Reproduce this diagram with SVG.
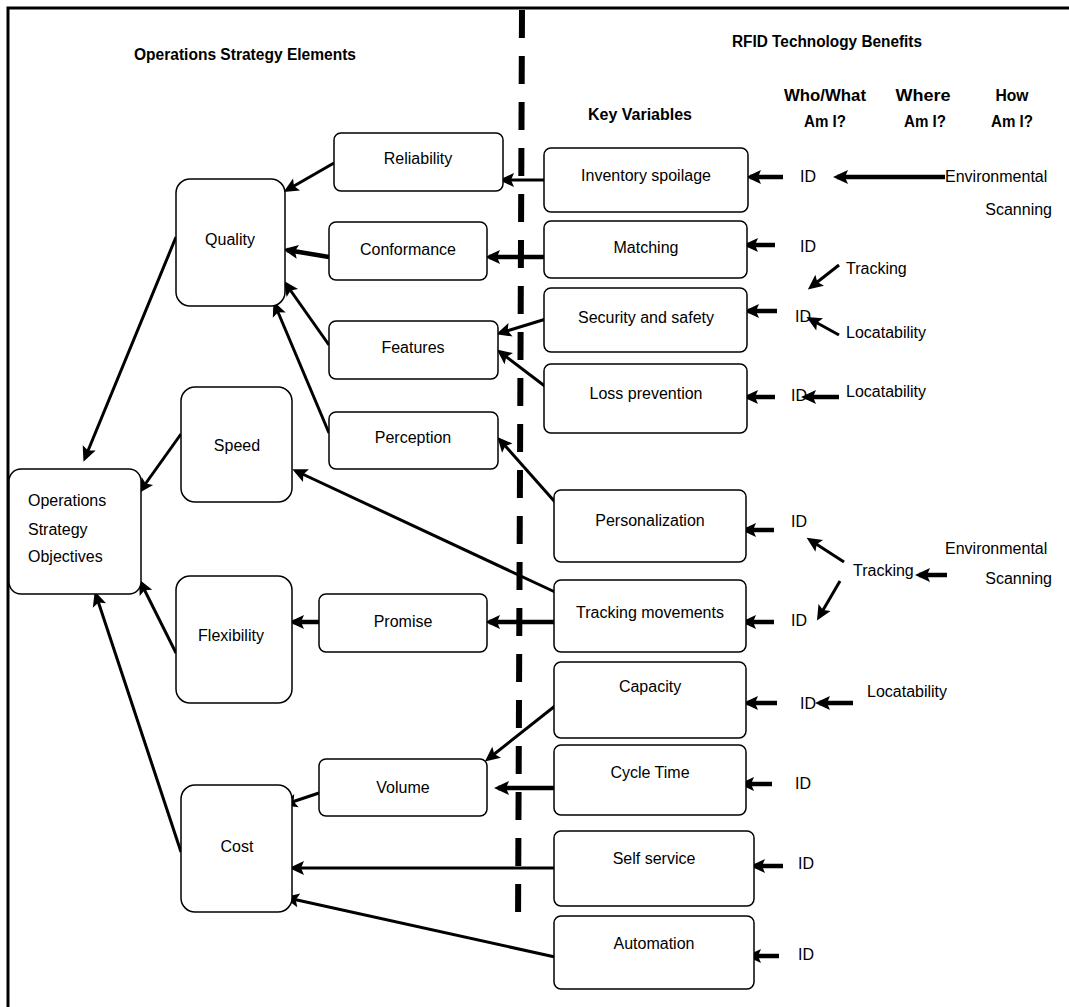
<svg xmlns="http://www.w3.org/2000/svg" width="1069" height="1007" viewBox="0 0 1069 1007">
<defs>
<style>
.box{fill:#fff;stroke:#000;stroke-width:1.5}
.t{font-family:"Liberation Sans",Arial,sans-serif;font-size:16px;fill:#000}
.c{text-anchor:middle}
.h{font-family:"Liberation Sans",Arial,sans-serif;font-size:16px;font-weight:bold;fill:#000}
.ln{stroke:#000;stroke-width:3;fill:none;marker-end:url(#ah)}
.tk{stroke:#000;stroke-width:4.5;fill:none;marker-end:url(#ah)}
</style>
<marker id="ah" markerUnits="userSpaceOnUse" markerWidth="16" markerHeight="14" refX="11" refY="7" orient="auto" overflow="visible">
<path d="M0,0 L15,7 L0,14 L3,7 z" fill="#000"/>
</marker>
</defs>
<rect width="1069" height="1007" fill="#fff"/>
<path d="M8,1007 V8 H1069" fill="none" stroke="#000" stroke-width="3"/>
<line x1="522" y1="10" x2="518" y2="928" stroke="#000" stroke-width="6" stroke-dasharray="28,18"/>

<g id="headers">
<text class="h c" x="245" y="60" textLength="222" lengthAdjust="spacingAndGlyphs">Operations Strategy Elements</text>
<text class="h c" x="827" y="47" textLength="190" lengthAdjust="spacingAndGlyphs">RFID Technology Benefits</text>
<text class="h c" x="640" y="120" textLength="104" lengthAdjust="spacingAndGlyphs">Key Variables</text>
<text class="h c" x="825" y="101" textLength="82" lengthAdjust="spacingAndGlyphs">Who/What</text>
<text class="h c" x="825" y="127" textLength="42" lengthAdjust="spacingAndGlyphs">Am I?</text>
<text class="h c" x="923" y="101" textLength="55" lengthAdjust="spacingAndGlyphs">Where</text>
<text class="h c" x="925" y="127" textLength="42" lengthAdjust="spacingAndGlyphs">Am I?</text>
<text class="h c" x="1012" y="101" textLength="33" lengthAdjust="spacingAndGlyphs">How</text>
<text class="h c" x="1012" y="127" textLength="42" lengthAdjust="spacingAndGlyphs">Am I?</text>
</g>

<g id="connectors">
<line class="ln" x1="544" y1="180" x2="503" y2="180"/>
<line class="ln" x1="334" y1="163" x2="287" y2="190"/>
<line class="tk" x1="544" y1="257" x2="489" y2="257"/>
<line class="tk" x1="329" y1="257" x2="287" y2="250"/>
<line class="ln" x1="546" y1="319" x2="500" y2="333"/>
<line class="ln" x1="546" y1="387" x2="500" y2="352"/>
<line class="ln" x1="329" y1="345" x2="286" y2="284"/>
<line class="ln" x1="329" y1="433" x2="275" y2="305"/>
<line class="ln" x1="555" y1="502" x2="500" y2="440"/>
<line class="ln" x1="176" y1="237" x2="85" y2="458"/>
<line class="ln" x1="181" y1="434" x2="141" y2="490"/>
<line class="ln" x1="555" y1="592" x2="296" y2="471"/>
<line class="tk" x1="554" y1="622" x2="489" y2="622"/>
<line class="tk" x1="319" y1="622" x2="293" y2="622"/>
<line class="ln" x1="176" y1="653" x2="141" y2="583"/>
<line class="ln" x1="181" y1="852" x2="96" y2="595"/>
<line class="ln" x1="555" y1="706" x2="488" y2="759"/>
<line class="tk" x1="554" y1="788" x2="498" y2="788"/>
<line class="ln" x1="319" y1="793" x2="286" y2="804"/>
<line class="ln" x1="554" y1="868" x2="293" y2="868"/>
<line class="ln" x1="555" y1="957" x2="288" y2="898"/>
<line class="tk" x1="783" y1="177" x2="750" y2="177"/>
<line class="tk" x1="945" y1="177" x2="837" y2="177"/>
<line class="tk" x1="775" y1="245" x2="747" y2="245"/>
<line class="ln" x1="839" y1="265" x2="811" y2="287"/>
<line class="tk" x1="777" y1="311" x2="748" y2="311"/>
<line class="ln" x1="839" y1="335" x2="810" y2="319"/>
<line class="tk" x1="775" y1="397" x2="747" y2="397"/>
<line class="tk" x1="839" y1="397" x2="805" y2="397"/>
<line class="tk" x1="774" y1="530" x2="745" y2="530"/>
<line class="ln" x1="844" y1="562" x2="810" y2="540"/>
<line class="tk" x1="947" y1="575" x2="919" y2="575"/>
<line class="ln" x1="840" y1="581" x2="819" y2="617"/>
<line class="tk" x1="774" y1="622" x2="745" y2="622"/>
<line class="tk" x1="777" y1="703" x2="747" y2="703"/>
<line class="tk" x1="853" y1="703" x2="819" y2="703"/>
<line class="tk" x1="772" y1="784" x2="743" y2="784"/>
<line class="tk" x1="783" y1="866" x2="754" y2="866"/>
<line class="tk" x1="779" y1="956" x2="750" y2="956"/>
</g>

<g id="objectives"><rect class="box" x="9" y="469" width="132" height="125" rx="12"/>
<text class="t" x="28" y="506">Operations</text><text class="t" x="28" y="535">Strategy</text><text class="t" x="28" y="562">Objectives</text></g>
<g id="quality"><rect class="box" x="176" y="179" width="109" height="127" rx="14"/><text class="t c" x="230" y="245">Quality</text></g>
<g id="speed"><rect class="box" x="181" y="387" width="111" height="115" rx="14"/><text class="t c" x="237" y="451">Speed</text></g>
<g id="flexibility"><rect class="box" x="176" y="576" width="116" height="127" rx="14"/><text class="t c" x="231" y="641">Flexibility</text></g>
<g id="cost"><rect class="box" x="181" y="785" width="111" height="127" rx="14"/><text class="t c" x="237" y="852">Cost</text></g>

<g id="reliability"><rect class="box" x="334" y="133" width="169" height="58" rx="7"/><text class="t c" x="418" y="164">Reliability</text></g>
<g id="conformance"><rect class="box" x="329" y="222" width="158" height="58" rx="7"/><text class="t c" x="408" y="255">Conformance</text></g>
<g id="features"><rect class="box" x="329" y="321" width="169" height="58" rx="7"/><text class="t c" x="413" y="353">Features</text></g>
<g id="perception"><rect class="box" x="329" y="412" width="169" height="57" rx="7"/><text class="t c" x="413" y="443">Perception</text></g>
<g id="promise"><rect class="box" x="319" y="594" width="168" height="58" rx="7"/><text class="t c" x="403" y="627">Promise</text></g>
<g id="volume"><rect class="box" x="319" y="759" width="168" height="57" rx="7"/><text class="t c" x="403" y="793">Volume</text></g>

<g id="inventory-spoilage"><rect class="box" x="544" y="148" width="204" height="64" rx="7"/><text class="t c" x="646" y="181">Inventory spoilage</text></g>
<g id="matching"><rect class="box" x="544" y="221" width="203" height="57" rx="7"/><text class="t c" x="646" y="253">Matching</text></g>
<g id="security"><rect class="box" x="544" y="288" width="203" height="64" rx="7"/><text class="t c" x="646" y="323">Security and safety</text></g>
<g id="loss-prevention"><rect class="box" x="544" y="364" width="203" height="69" rx="7"/><text class="t c" x="646" y="399">Loss prevention</text></g>
<g id="personalization"><rect class="box" x="554" y="490" width="192" height="72" rx="7"/><text class="t c" x="650" y="526">Personalization</text></g>
<g id="tracking-movements"><rect class="box" x="554" y="580" width="192" height="72" rx="7"/><text class="t c" x="650" y="618">Tracking movements</text></g>
<g id="capacity"><rect class="box" x="554" y="662" width="192" height="76" rx="7"/><text class="t c" x="650" y="692">Capacity</text></g>
<g id="cycle-time"><rect class="box" x="554" y="745" width="192" height="70" rx="7"/><text class="t c" x="650" y="778">Cycle Time</text></g>
<g id="self-service"><rect class="box" x="554" y="831" width="200" height="75" rx="7"/><text class="t c" x="654" y="864">Self service</text></g>
<g id="automation"><rect class="box" x="554" y="916" width="200" height="73" rx="7"/><text class="t c" x="654" y="949">Automation</text></g>

<g id="rfid-labels">
<text class="t" x="800" y="182">ID</text>
<text class="t" x="945" y="182">Environmental</text>
<text class="t" x="1052" y="215" text-anchor="end">Scanning</text>
<text class="t" x="800" y="252">ID</text>
<text class="t" x="846" y="274">Tracking</text>
<text class="t" x="795" y="322">ID</text>
<text class="t" x="846" y="338">Locatability</text>
<text class="t" x="791" y="401">ID</text>
<text class="t" x="846" y="397">Locatability</text>
<text class="t" x="791" y="527">ID</text>
<text class="t" x="945" y="554">Environmental</text>
<text class="t" x="1052" y="584" text-anchor="end">Scanning</text>
<text class="t" x="853" y="576">Tracking</text>
<text class="t" x="791" y="626">ID</text>
<text class="t" x="800" y="709">ID</text>
<text class="t" x="867" y="697">Locatability</text>
<text class="t" x="795" y="789">ID</text>
<text class="t" x="798" y="869">ID</text>
<text class="t" x="798" y="960">ID</text>
</g>
</svg>
